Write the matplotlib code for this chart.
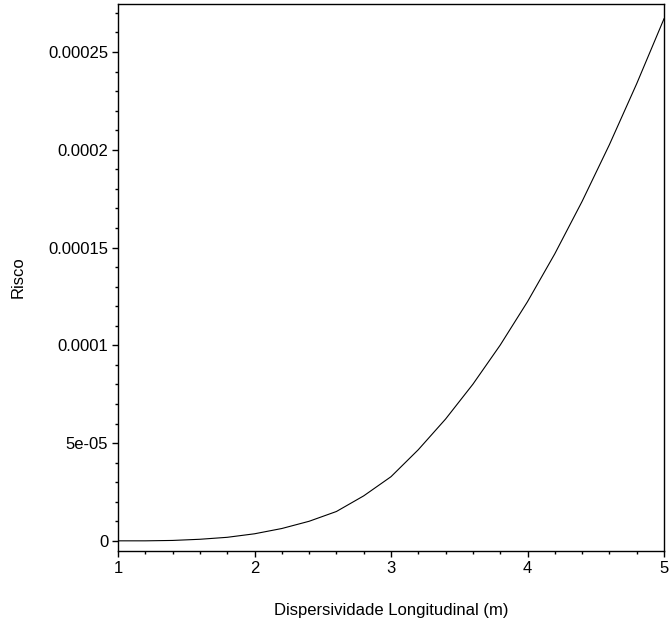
import numpy as np
import matplotlib
matplotlib.use("Agg")
import matplotlib.pyplot as plt
from matplotlib.ticker import MultipleLocator

plt.rcParams['font.family'] = ['Liberation Sans', 'DejaVu Sans']

# dispersividade longitudinal (m) vs risco
disp = [1.0, 1.2, 1.4, 1.6, 1.8, 2.0, 2.2, 2.4, 2.6, 2.8, 3.0,
        3.2, 3.4, 3.6, 3.8, 4.0, 4.2, 4.4, 4.6, 4.8, 5.0]
risco = [0.0, 0.0, 2e-7, 8e-7, 1.8e-6, 3.6e-6, 6.3e-6, 1.0e-5, 1.5e-5, 2.3e-5, 3.28e-5,
         4.66e-5, 6.23e-5, 8.01e-5, 1.001e-4, 1.223e-4, 1.468e-4, 1.736e-4, 2.026e-4,
         2.338e-4, 2.67e-4]

y_ticks = [0, 5e-05, 0.0001, 0.00015, 0.0002, 0.00025]
y_tick_labels = ['0', '5e-05', '0.0001', '0.00015', '0.0002', '0.00025']
x_ticks = [1, 2, 3, 4, 5]

W, H = 669, 632
fig = plt.figure(figsize=(W / 100, H / 100), dpi=100, facecolor='white')
ax = fig.add_axes([118 / W, 1 - 551 / H, (664 - 118) / W, (551 - 4) / H])

ax.plot(disp, risco, color='black', lw=0.8)

ax.set_xlim(1, 5)
ax.set_ylim(-5.2e-06, 2.7455e-04)

ax.set_xticks(x_ticks)
ax.set_xticklabels([str(t) for t in x_ticks])
ax.set_yticks(y_ticks)
ax.set_yticklabels(y_tick_labels)
ax.xaxis.set_minor_locator(MultipleLocator(0.2))
ax.yaxis.set_minor_locator(MultipleLocator(1e-05))

ax.tick_params(axis='both', which='major', length=4, width=1.0, direction='out',
               labelsize=12, pad=3, colors='black')
ax.tick_params(axis='both', which='minor', length=2, width=1.0, direction='out')

for s in ax.spines.values():
    s.set_linewidth(1.0)
    s.set_color('black')

fig.text(18 / W, 1 - 277 / H, 'Risco', rotation=90, ha='center', va='center', fontsize=12)
fig.text(391 / W, 1 - 611 / H, 'Dispersividade Longitudinal (m)', ha='center', va='center',
         fontsize=12)

fig.savefig('out.png', dpi=100, facecolor='white')
